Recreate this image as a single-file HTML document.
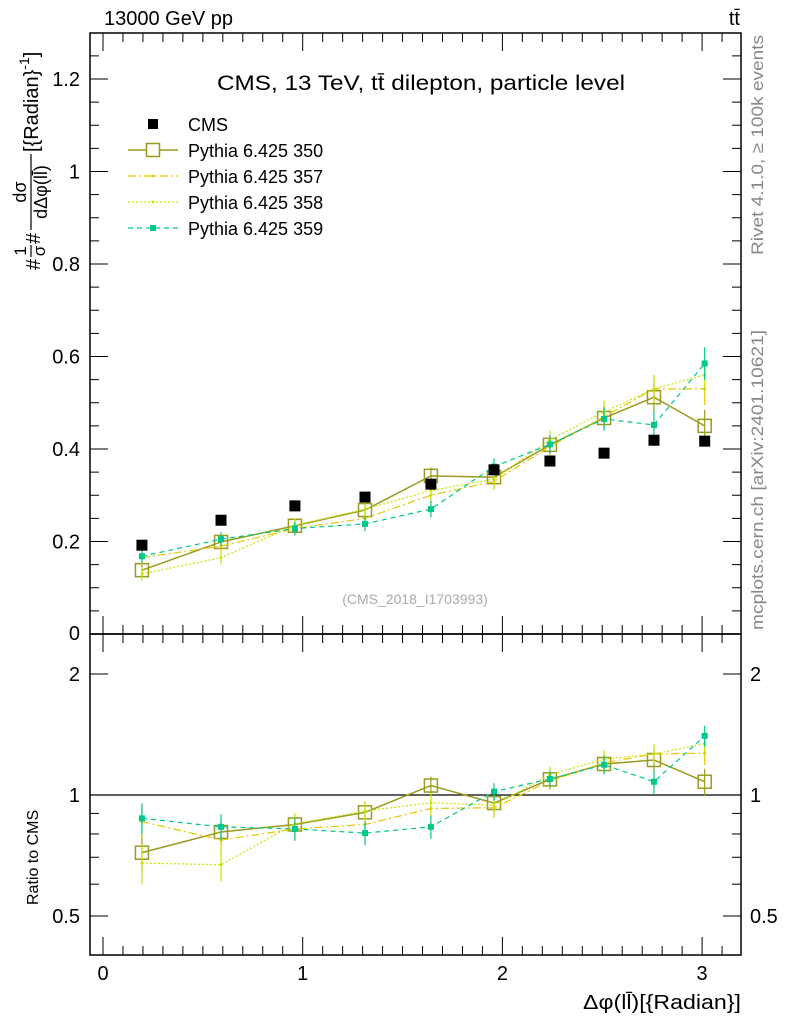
<!DOCTYPE html>
<html><head><meta charset="utf-8"><style>
body{margin:0;background:#fff;}
svg{display:block;font-family:"Liberation Sans",sans-serif;}
</style></head><body>
<svg id="c" width="786" height="1024" viewBox="0 0 786 1024" xmlns="http://www.w3.org/2000/svg">
<text x="104" y="25" font-size="20">13000 GeV pp</text>
<text x="740" y="25" font-size="20" text-anchor="end">tt̄</text>
<text x="217" y="90" font-size="21" textLength="408" lengthAdjust="spacingAndGlyphs">CMS, 13 TeV, tt̄ dilepton, particle level</text>
<text x="415" y="604" font-size="14" fill="#aaa" text-anchor="middle">(CMS_2018_I1703993)</text>
<text transform="translate(763,255) rotate(-90)" font-size="17" fill="#888" textLength="220" lengthAdjust="spacingAndGlyphs">Rivet 4.1.0, ≥ 100k events</text>
<text transform="translate(763,630) rotate(-90)" font-size="17" fill="#888" textLength="300" lengthAdjust="spacingAndGlyphs">mcplots.cern.ch [arXiv:2401.10621]</text>
<g transform="translate(0,270) rotate(-90)" font-size="20">
<text x="0" y="40">#</text>
<text x="19" y="26" text-anchor="middle" font-size="17">1</text>
<line x1="13" x2="25" y1="31" y2="31" stroke="#000" stroke-width="1.2"/>
<text x="19" y="45" text-anchor="middle" font-size="17">σ</text>
<text x="26" y="40">#</text>
<text x="78" y="26" text-anchor="middle" font-size="18">dσ</text>
<line x1="40" x2="116" y1="31" y2="31" stroke="#000" stroke-width="1.2"/>
<text x="78" y="47" text-anchor="middle" font-size="18">dΔφ(ll̄)</text>
<text x="118" y="38">[{Radian}<tspan dy="-9" font-size="14">-1</tspan><tspan dy="9">]</tspan></text>
</g>
<text transform="translate(38,905) rotate(-90)" font-size="16">Ratio to CMS</text>
<text x="741" y="1009" font-size="20" text-anchor="end" textLength="158" lengthAdjust="spacingAndGlyphs">Δφ(ll̄)[{Radian}]</text>
<g id="g"></g>
</svg>
<script>
const xs=[0.195,0.591,0.961,1.312,1.642,1.958,2.238,2.509,2.759,3.013];
const cms=[0.192,0.246,0.277,0.296,0.324,0.355,0.374,0.391,0.419,0.417];
const s350=[0.138,0.199,0.234,0.268,0.342,0.339,0.409,0.467,0.512,0.450];
const s357=[0.165,0.190,0.228,0.250,0.300,0.330,0.405,0.470,0.530,0.530];
const s358=[0.130,0.165,0.235,0.270,0.310,0.335,0.420,0.480,0.530,0.560];
const s359=[0.168,0.205,0.228,0.238,0.270,0.362,0.410,0.465,0.452,0.585];
const err=[0.015,0.015,0.015,0.016,0.018,0.018,0.02,0.025,0.03,0.035];
const xTicks=[0,1,2,3];
const yTicks=[0.2,0.4,0.6,0.8,1,1.2];
const rTicks=[0.5,1,2];
const NS="http://www.w3.org/2000/svg";
const g=document.getElementById('g');
const L=90,R=741,T=33,M=634,B=955;
const X=v=>103+v*199.7;
const Y=v=>634-v*462.5;
const YR=v=>795-Math.log2(v)*121;
function el(t,a,n){const e=document.createElementNS(NS,t);for(const k in a)e.setAttribute(k,a[k]);


g.appendChild(e);return e;}
el('rect',{x:L,y:T,width:R-L,height:M-T,fill:'none',stroke:'#000','stroke-width':1.5},'main-frame');
el('rect',{x:L,y:M,width:R-L,height:B-M,fill:'none',stroke:'#000','stroke-width':1.5},'ratio-frame');
for(let i=0;i<=32;i++){const v=i/10,x=X(v);if(x>R)break;const maj=i%10==0,l=maj?18:9;
[[T,1],[M,-1],[M,1],[B,-1]].forEach(([y,d])=>el('line',{x1:x,x2:x,y1:y,y2:y+d*l,stroke:'#000'},'x-tick'));}
xTicks.forEach(v=>{const t=el('text',{x:X(v),y:980,'font-size':20,'text-anchor':'middle'},'x-tick-label');t.textContent=v;});
for(let i=1;i<=26;i++){const v=i*0.05,y=Y(v);if(y<T)break;const maj=i%4==0,l=maj?18:9;
el('line',{x1:L,x2:L+l,y1:y,y2:y,stroke:'#000'},'y-tick');el('line',{x1:R,x2:R-l,y1:y,y2:y,stroke:'#000'},'y-tick');}
yTicks.forEach(v=>{const t=el('text',{x:80,y:Y(v)+7,'font-size':20,'text-anchor':'end'},'y-tick-label');t.textContent=v;});
const z=el('text',{x:80,y:640,'font-size':20,'text-anchor':'end'},'y-tick-label');z.textContent='0';
[0.5,0.6,0.7,0.8,0.9,1,2].forEach(v=>{const y=YR(v),maj=rTicks.includes(v),l=maj?18:9;
el('line',{x1:L,x2:L+l,y1:y,y2:y,stroke:'#000'},'ratio-tick');el('line',{x1:R,x2:R-l,y1:y,y2:y,stroke:'#000'},'ratio-tick');});
[0.5,1,2].forEach(v=>{let y=YR(v);
let t=el('text',{x:80,y:y+7,'font-size':20,'text-anchor':'end'},'ratio-tick-label');t.textContent=v;
t=el('text',{x:750,y:y+7,'font-size':20},'ratio-tick-label-right');t.textContent=v;});
el('line',{x1:L,x2:R,y1:YR(1),y2:YR(1),stroke:'#000','stroke-width':1.2},'ratio-unity-line');
const series=[
 {d:s350,c:'#9a9a1f',dash:'',w:1.5,m:'open',n:'pythia-350'},
 {d:s357,c:'#e6c800',dash:'8,3,2,3',w:1.2,m:'dot',n:'pythia-357'},
 {d:s358,c:'#c8e600',dash:'2,2',w:1.2,m:'dot',n:'pythia-358'},
 {d:s359,c:'#00c88c',dash:'5,4',w:1.2,m:'sq',n:'pythia-359'}];
function draw(s,Yf,vals,errs,suffix){
 el('polyline',{points:xs.map((x,i)=>X(x)+','+Yf(vals[i])).join(' '),fill:'none',stroke:s.c,'stroke-width':s.w,'stroke-dasharray':s.dash},s.n+suffix+'-line');
 xs.forEach((x,i)=>{const cx=X(x),cy=Yf(vals[i]);
  el('line',{x1:cx,x2:cx,y1:Yf(vals[i]+errs[i]),y2:Yf(vals[i]-errs[i]),stroke:s.c,'stroke-width':1.2},s.n+suffix+'-errbar');
  if(s.m=='open')el('rect',{x:cx-6.5,y:cy-6.5,width:13,height:13,fill:'none',stroke:s.c,'stroke-width':1.5},s.n+suffix+'-marker');
  else if(s.m=='sq')el('rect',{x:cx-3,y:cy-3,width:6,height:6,fill:s.c},s.n+suffix+'-marker');
  else el('circle',{cx:cx,cy:cy,r:1.5,fill:s.c},s.n+suffix+'-marker');});
}
series.forEach(s=>{
 draw(s,Y,s.d,err,'');
 const r=s.d.map((v,i)=>v/cms[i]);const re=err.map((e,i)=>e/cms[i]);
 draw(s,YR,r,re,'-ratio');
});
xs.forEach((x,i)=>{el('rect',{x:X(x)-5.5,y:Y(cms[i])-5.5,width:11,height:11,fill:'#000'},'cms-point');});
const leg=[['CMS',null],['Pythia 6.425 350',series[0]],['Pythia 6.425 357',series[1]],['Pythia 6.425 358',series[2]],['Pythia 6.425 359',series[3]]];
leg.forEach((e,i)=>{const y=124+i*26;
 const t=el('text',{x:188,y:y+7,'font-size':18},'legend-entry');t.textContent=e[0];
 if(!e[1]){el('rect',{x:148,y:y-5,width:10,height:10,fill:'#000'},'legend-marker');return;}
 const s=e[1];el('line',{x1:128,x2:178,y1:y,y2:y,stroke:s.c,'stroke-width':s.w,'stroke-dasharray':s.dash},'legend-line');
 if(s.m=='open')el('rect',{x:146.5,y:y-6.5,width:13,height:13,fill:'#fff',stroke:s.c,'stroke-width':1.5},'legend-marker');
 else if(s.m=='sq')el('rect',{x:150,y:y-3,width:6,height:6,fill:s.c},'legend-marker');
 else el('circle',{cx:153,cy:y,r:1.5,fill:s.c},'legend-marker');});
</script>
</body></html>
